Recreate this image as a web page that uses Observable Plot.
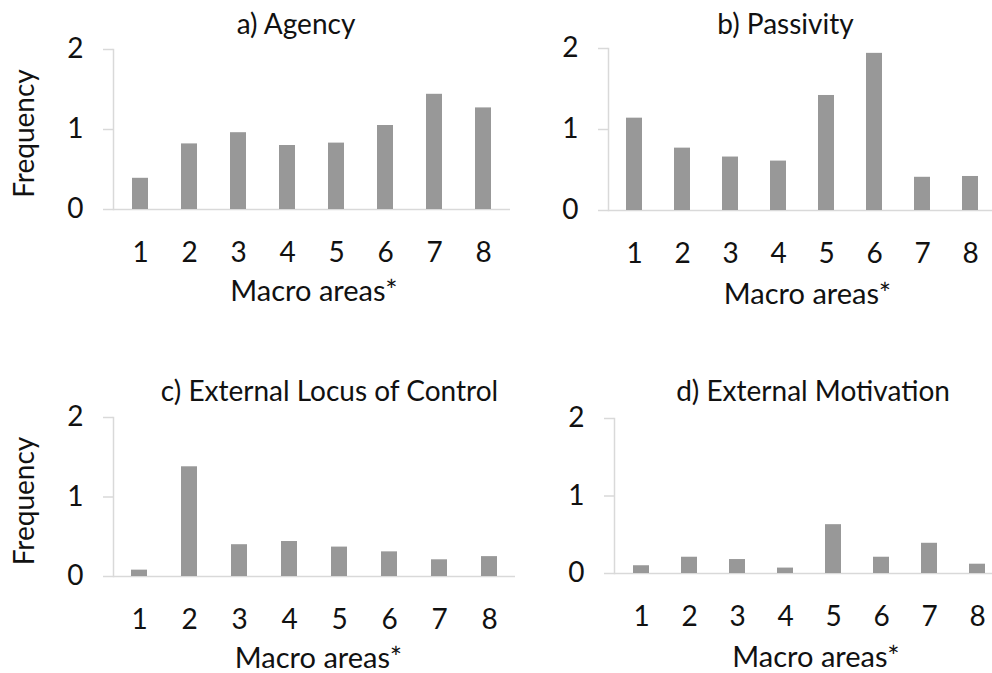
<!DOCTYPE html>
<html>
<head>
<meta charset="utf-8">
<script src="https://cdn.jsdelivr.net/npm/d3@7"></script>
<script src="https://cdn.jsdelivr.net/npm/@observablehq/plot@0.6"></script>
<style>
  html, body { margin: 0; padding: 0; background: #fff; }
  #wrap { position: relative; width: 992px; height: 673px; overflow: hidden; background: #fff; }
  #wrap svg { position: absolute; left: 0; top: 0; max-width: none !important; background: transparent !important; overflow: visible; }
</style>
</head>
<body>
<div id="wrap"></div>
<script>
// ---- data ----
const areas = ["1", "2", "3", "4", "5", "6", "7", "8"];
const agency = [0.39, 0.82, 0.96, 0.80, 0.83, 1.05, 1.44, 1.27];
const passivity = [1.14, 0.77, 0.66, 0.61, 1.42, 1.94, 0.41, 0.42];
const externalLocus = [0.08, 1.38, 0.40, 0.44, 0.37, 0.31, 0.21, 0.25];
const externalMotivation = [0.10, 0.21, 0.18, 0.07, 0.63, 0.21, 0.39, 0.12];
const yTicks = [0, 1, 2];
const titles = ["a) Agency", "b) Passivity", "c) External Locus of Control", "d) External Motivation"];
const xLabel = "Macro areas*";
const yLabel = "Frequency";

// ---- layout (frame: left, right, top, bottom in page pixels) ----
const W = 1010, H = 673;
const layouts = [
  {frame: [113, 510, 49, 209], tdx: -16, tdy: -16, xdx: 2, xdy: 91, showY: true, ydy: 4},
  {frame: [608, 996, 48, 210], tdx: -17, tdy: -15, xdx: 5, xdy: 93, showY: false, ydy: 0},
  {frame: [113, 515, 417, 576], tdx: 15, tdy: -17, xdx: 4, xdy: 91, showY: true, ydy: 4},
  {frame: [614, 1003, 418, 573], tdx: 4, tdy: -18, xdx: 7, xdy: 93, showY: false, ydy: 0}
];
const seriesList = [agency, passivity, externalLocus, externalMotivation];

const FONT = "Lato, 'Open Sans', sans-serif";
const TXT = "#111";
const AX = "#d9d9d9";
const BAR = "#989898";
const FS = 28;

function panel(values, title, L) {
  const data = areas.map((a, i) => ({area: a, value: values[i]}));
  const [fl, fr, ft, fb] = L.frame;
  const marks = [
    Plot.ruleY([0], {stroke: AX, strokeWidth: 1.5}),
    Plot.frame({anchor: "left", stroke: AX, strokeWidth: 1.5}),
    Plot.axisY({ticks: yTicks, tickSize: 10, tickPadding: 20, stroke: AX, strokeWidth: 1.5, fill: TXT, fontSize: FS, label: null, tickFormat: d => String(d)}),
    Plot.axisX({tickSize: 0, tickPadding: 33, fill: TXT, fontSize: FS, label: null}),
    Plot.barY(data, {x: "area", y: "value", fill: BAR}),
    Plot.text([title], {text: d => d, frameAnchor: "top", lineAnchor: "bottom", dx: L.tdx, dy: L.tdy, fontSize: FS, fill: TXT, style: "letter-spacing:0.5px"}),
    Plot.text([xLabel], {text: d => d, frameAnchor: "bottom", lineAnchor: "bottom", dx: L.xdx, dy: L.xdy, fontSize: FS + 1, fill: TXT, style: "letter-spacing:1px"})
  ];
  if (L.showY) {
    marks.push(Plot.text([yLabel], {text: d => d, frameAnchor: "left", rotate: -90, textAnchor: "middle", lineAnchor: "bottom", dx: 33 - fl, dy: L.ydy, fontSize: FS, fill: TXT, style: "letter-spacing:0.5px"}));
  }
  return Plot.plot({
    width: W,
    height: H,
    marginLeft: fl,
    marginRight: W - fr,
    marginTop: ft,
    marginBottom: H - fb,
    x: {type: "band", domain: areas, paddingInner: 0.67, paddingOuter: 0.335, label: null},
    y: {domain: [0, 2], label: null},
    style: {fontFamily: FONT, background: "transparent", color: TXT},
    marks
  });
}

const wrap = document.getElementById("wrap");
seriesList.forEach((vals, i) => {
  wrap.appendChild(panel(vals, titles[i], layouts[i]));
});
</script>
</body>
</html>
